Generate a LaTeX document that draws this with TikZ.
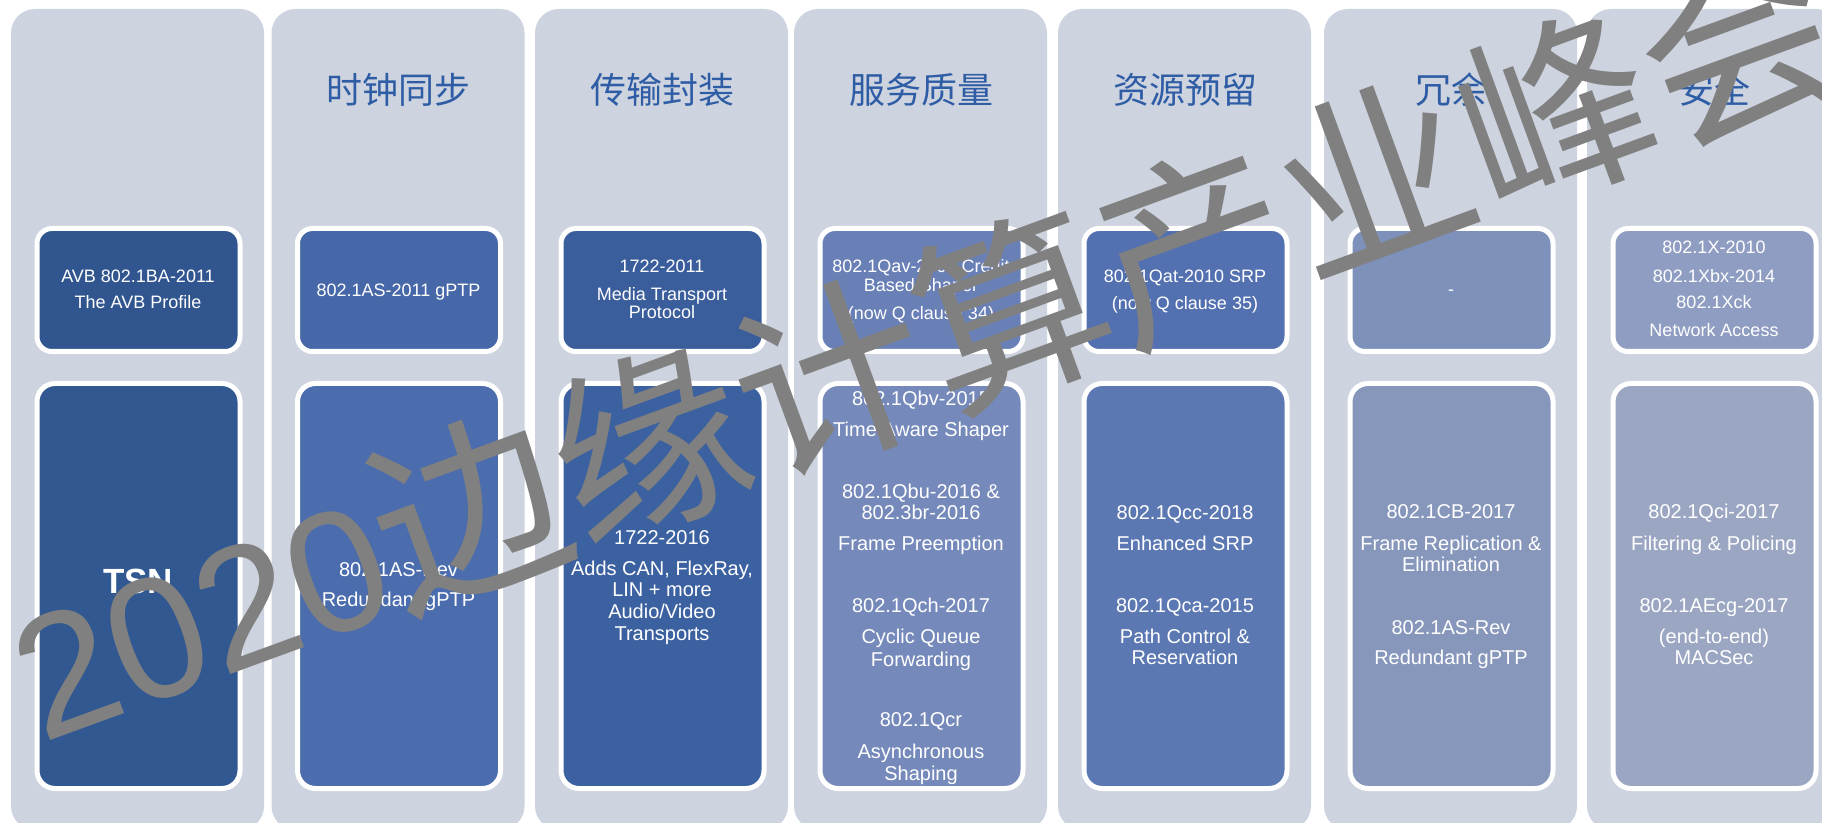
\documentclass[tikz,border=0pt]{standalone}
\usepackage{fontspec}
\setmainfont{Liberation Sans}
\newfontfamily\cjk{Noto Sans CJK SC}
\definecolor{colbg}{HTML}{CDD3DF}
\definecolor{hdr}{HTML}{2F5DA5}
\definecolor{wmgray}{HTML}{808080}
\definecolor{tA}{HTML}{30558F}\definecolor{bA}{HTML}{325892}
\definecolor{tB}{HTML}{4667A8}\definecolor{bB}{HTML}{4B6CAD}
\definecolor{tC}{HTML}{3A5D9C}\definecolor{bC}{HTML}{3C61A1}
\definecolor{tD}{HTML}{6980B7}\definecolor{bD}{HTML}{7589BA}
\definecolor{tE}{HTML}{5370B0}\definecolor{bE}{HTML}{5C78B2}
\definecolor{tF}{HTML}{7D91BA}\definecolor{bF}{HTML}{8797BB}
\definecolor{tG}{HTML}{8E9DC1}\definecolor{bG}{HTML}{9BA6C2}
\begin{document}
\begin{tikzpicture}[x=0.5pt,y=-0.5pt,
  colbox/.style={fill=colbg, rounded corners=12pt},
  topbox/.style={draw=white, line width=2.5pt, rounded corners=7.5pt},
  botbox/.style={draw=white, line width=2.5pt, rounded corners=9pt},
  hd/.style={text=hdr, font=\cjk\fontsize{18pt}{20pt}\selectfont, anchor=base, inner sep=0pt},
  st/.style={text=white, font=\fontsize{9pt}{10pt}\selectfont, anchor=base, inner sep=0pt},
  bt/.style={text=white, font=\fontsize{10pt}{11pt}\selectfont, anchor=base, inner sep=0pt},
  wmd/.style={text=wmgray, font=\fontsize{86.3pt}{90pt}\selectfont, anchor=base west, inner sep=0pt, outer sep=0pt, rotate=20.1},
  wmc/.style={text=wmgray, font=\cjk\fontsize{96.5pt}{100pt}\selectfont, anchor=base west, inner sep=0pt, outer sep=0pt, rotate=20.1}
]
\useasboundingbox (0,0) rectangle (1822,823);
\clip (0,0) rectangle (1822,823);
\fill[white] (0,0) rectangle (1822,823);

% columns and boxes
\foreach \L/\ct/\cb in {11/tA/bA, 271.5/tB/bB, 535/tC/bC, 794/tD/bD, 1058/tE/bE, 1324/tF/bF, 1587/tG/bG} {
  \path[colbox] (\L,9) rectangle ++(253,821);
  \path[topbox, fill=\ct] (\L+26,228.5) rectangle ++(203,123);
  \path[botbox, fill=\cb] (\L+26,383.5) rectangle ++(203,405);
}

% headers
\node[hd] (h2) at (398.5,104) {时钟同步};
\node[hd] (h3) at (662,104) {传输封装};
\node[hd] (h4) at (921,104) {服务质量};
\node[hd] (h5) at (1185,104) {资源预留};
\node[hd] (h6) at (1451,104) {冗余};
\node[hd] (h7) at (1714,104) {安全};

% top box texts
\node[st] (a1) at (138,282.5) {AVB 802.1BA-2011};
\node[st] (a2) at (138,309) {The AVB Profile};
\node[st] (a3) at (398.5,296.5) {802.1AS-2011 gPTP};
\node[st] (a4) at (662,272.5) {1722-2011};
\node[st] (a5) at (662,300.5) {Media Transport};
\node[st] (a6) at (662,319) {Protocol};
\node[st] (a7) at (921,272.5) {802.1Qav-2009 Credit};
\node[st] (a8) at (921,291.5) {Based Shaper};
\node[st] (a9) at (921,319.5) {(now Q clause 34)};
\node[st] (a10) at (1185,282.5) {802.1Qat-2010 SRP};
\node[st] (a11) at (1185,309.5) {(now Q clause 35)};
\node[st] (a12) at (1451,296) {-};
\node[st] (a13) at (1714,253.5) {802.1X-2010};
\node[st] (a14) at (1714,282.5) {802.1Xbx-2014};
\node[st] (a15) at (1714,309) {802.1Xck};
\node[st] (a16) at (1714,337) {Network Access};

% bottom box texts
\node[text=white, font=\bfseries\fontsize{17.5pt}{19pt}\selectfont, anchor=base, inner sep=0pt] (tsn) at (138,594) {TSN};
\node[bt] (b1) at (398.5,577) {802.1AS-Rev};
\node[bt] (b2) at (398.5,607) {Redundant gPTP};
\node[bt] (b3) at (662,544.5) {1722-2016};
\node[bt] (b4) at (662,575.5) {Adds CAN, FlexRay,};
\node[bt] (b5) at (662,596.5) {LIN + more};
\node[bt] (b6) at (662,618) {Audio/Video};
\node[bt] (b7) at (662,640.5) {Transports};
\node[bt] (b8) at (921,405.5) {802.1Qbv-2015};
\node[bt] (b9) at (921,436.5) {Time Aware Shaper};
\node[bt] (b10) at (921,499) {802.1Qbu-2016 \&};
\node[bt] (b11) at (921,520) {802.3br-2016};
\node[bt] (b12) at (921,550.5) {Frame Preemption};
\node[bt] (b13) at (921,612) {802.1Qch-2017};
\node[bt] (b14) at (921,644) {Cyclic Queue};
\node[bt] (b15) at (921,666.5) {Forwarding};
\node[bt] (b16) at (921,726.5) {802.1Qcr};
\node[bt] (b17) at (921,758) {Asynchronous};
\node[bt] (b18) at (921,780) {Shaping};
\node[bt] (b19) at (1185,520) {802.1Qcc-2018};
\node[bt] (b20) at (1185,550.5) {Enhanced SRP};
\node[bt] (b21) at (1185,612) {802.1Qca-2015};
\node[bt] (b22) at (1185,644) {Path Control \&};
\node[bt] (b23) at (1185,664.5) {Reservation};
\node[bt] (b24) at (1451,519) {802.1CB-2017};
\node[bt] (b25) at (1451,550.5) {Frame Replication \&};
\node[bt] (b26) at (1451,572) {Elimination};
\node[bt] (b27) at (1451,634) {802.1AS-Rev};
\node[bt] (b28) at (1451,664.5) {Redundant gPTP};
\node[bt] (b29) at (1714,519) {802.1Qci-2017};
\node[bt] (b30) at (1714,550.5) {Filtering \& Policing};
\node[bt] (b31) at (1714,612) {802.1AEcg-2017};
\node[bt] (b32) at (1714,644) {(end-to-end)};
\node[bt] (b33) at (1714,664) {MACSec};

% watermark
\node[wmd] (wm1) at (42,743.4) {2020};
\node[wmc] (wm2) at (wm1.base east) {边缘计算产业峰会};
\end{tikzpicture}
\end{document}
